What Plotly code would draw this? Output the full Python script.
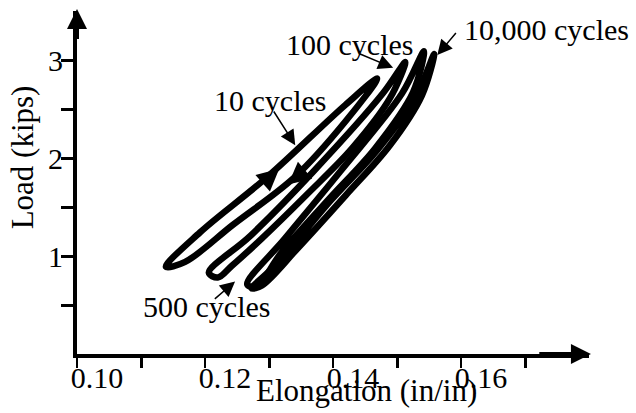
import plotly.graph_objects as go

# hysteresis loops (elongation in/in, load kips),
# each traced from the middle of the loading branch round the loop
loop_10_x = [0.1298, 0.1419, 0.1469, 0.1419, 0.1341, 0.1244, 0.1169, 0.1139, 0.1192, 0.1298]
loop_10_y = [1.81, 2.54, 2.81, 2.37, 1.81, 1.32, 0.94, 0.89, 1.24, 1.81]

loop_100_x = [0.1369, 0.1478, 0.1513, 0.1489, 0.1430, 0.1358, 0.1289, 0.1242, 0.1220, 0.1206, 0.1270, 0.1369]
loop_100_y = [1.86, 2.66, 2.98, 2.61, 2.10, 1.62, 1.18, 0.90, 0.78, 0.83, 1.20, 1.86]

loop_500_x = [0.1411, 0.1508, 0.1542, 0.1525, 0.1466, 0.1392, 0.1320, 0.1280, 0.1266, 0.1325, 0.1411]
loop_500_y = [1.86, 2.66, 3.09, 2.67, 2.10, 1.57, 1.04, 0.69, 0.71, 1.18, 1.86]

loop_10000_x = [0.1397, 0.1469, 0.1530, 0.1558, 0.1539, 0.1489, 0.1420, 0.1345, 0.1289, 0.1273, 0.1311, 0.1397]
loop_10000_y = [1.57, 2.08, 2.64, 3.06, 2.64, 2.13, 1.62, 1.08, 0.70, 0.67, 0.91, 1.57]

x_tick_vals = [0.10, 0.12, 0.14, 0.16]
x_tick_text = ["0.10", "0.12", "0.14", "0.16"]
x_minor_vals = [0.11, 0.13, 0.15, 0.17]
y_tick_vals = [0.5, 1.0, 1.5, 2.0, 2.5, 3.0]
y_tick_text = ["", "1", "", "2", "", "3"]

FONT = "Liberation Serif"

fig = go.Figure()
for lx, ly in [(loop_10_x, loop_10_y), (loop_100_x, loop_100_y),
               (loop_500_x, loop_500_y), (loop_10000_x, loop_10000_y)]:
    fig.add_trace(go.Scatter(x=lx, y=ly, mode="lines",
                             line=dict(color="black", width=6.5, shape="spline", smoothing=1.0),
                             hoverinfo="skip"))

def arrow(tip, tail, width=1.5, size=2.0):
    return dict(x=tip[0], y=tip[1], ax=tail[0], ay=tail[1], xref="x", yref="y",
                axref="x", ayref="y", text="", showarrow=True, arrowhead=2,
                arrowwidth=width, arrowsize=size, arrowcolor="black")

def label(text, x, y, size=30):
    return dict(x=x, y=y, xref="x", yref="y", text=text, showarrow=False,
                font=dict(family=FONT, size=size, color="black"))

annotations = [
    # axis arrowheads
    arrow((0.1803, 0), (0.172, 0), width=4, size=1.0),
    arrow((0.10, 3.52), (0.10, 3.2), width=4, size=1.0),
    # callouts
    label("10 cycles", 0.1302, 2.59),
    arrow((0.1341, 2.13), (0.1306, 2.49)),
    label("100 cycles", 0.1425, 3.16),
    arrow((0.1494, 2.92), (0.1439, 3.07)),
    label("10,000 cycles", 0.1733, 3.31),
    arrow((0.1563, 3.05), (0.1594, 3.29)),
    label("500 cycles", 0.1202, 0.48),
    arrow((0.1247, 0.74), (0.1213, 0.55)),
    # loading / unloading direction on the 10 cycle loop
    arrow((0.1316, 1.89), (0.1295, 1.77), width=2, size=2.2),
    arrow((0.1330, 1.73), (0.1350, 1.84), width=2, size=2.2),
    # axis titles (paper coords so they are not hidden outside the ranges)
    dict(x=0.566, y=-0.105, xref="paper", yref="paper", xanchor="center", yanchor="middle",
         text="Elongation (in/in)", showarrow=False,
         font=dict(family=FONT, size=31, color="black")),
    dict(x=-0.107, y=0.574, xref="paper", yref="paper", xanchor="center", yanchor="middle",
         text="Load (kips)", textangle=-90, showarrow=False,
         font=dict(family=FONT, size=31, color="black")),
]

fig.update_layout(
    template="none",
    width=636, height=413,
    margin=dict(l=77, r=47, t=11, b=59),
    paper_bgcolor="white", plot_bgcolor="white",
    showlegend=False,
    annotations=annotations,
    xaxis=dict(range=[0.10, 0.18], showgrid=False, zeroline=False, automargin=False,
               showline=True, linewidth=4, linecolor="black",
               tickmode="array", tickvals=x_tick_vals, ticktext=x_tick_text,
               ticks="outside", ticklen=10, tickwidth=1.5, tickcolor="black",
               ticklabelshift=20, ticklabelstandoff=-16,
               tickfont=dict(family=FONT, size=30, color="black"),
               minor=dict(tickmode="array", tickvals=x_minor_vals, ticks="outside",
                          ticklen=10, tickwidth=3, tickcolor="black", showgrid=False)),
    yaxis=dict(range=[0, 3.5], showgrid=False, zeroline=False, automargin=False,
               showline=True, linewidth=4, linecolor="black",
               tickmode="array", tickvals=y_tick_vals, ticktext=y_tick_text,
               ticks="outside", ticklen=12, tickwidth=3, tickcolor="black",
               ticklabelstandoff=-8,
               tickfont=dict(family=FONT, size=30, color="black")),
)

fig.write_html("out.html", config={"displayModeBar": False},
               post_script="document.body.style.margin = '0';")
